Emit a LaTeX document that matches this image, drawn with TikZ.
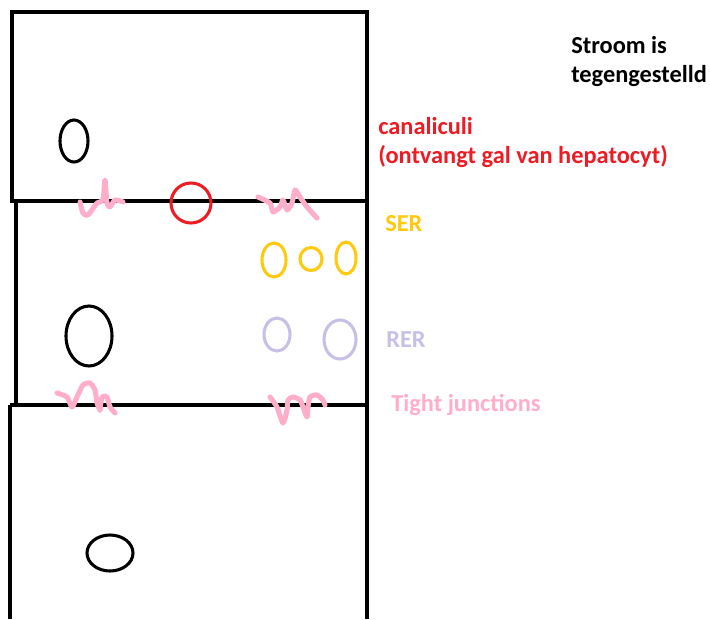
\documentclass[tikz,border=0pt]{standalone}
\usepackage{fontspec}
\setmainfont{Carlito}

% paint palette
\definecolor{cellred}{RGB}{237,28,36}
\definecolor{sergold}{RGB}{255,201,14}
\definecolor{rerlila}{RGB}{200,191,231}
\definecolor{tjpink}{RGB}{255,174,201}

\begin{document}
\begin{tikzpicture}[x=0.75pt, y=-0.75pt,
  wall/.style={line width=3pt},
  organel/.style={line width=2.3pt},
  squiggle/.style={tjpink, line width=3.8pt, line cap=round, line join=round},
  lbl/.style={font=\fontsize{18.3pt}{21.75pt}\selectfont\bfseries, inner sep=0pt, anchor=base west, align=left}]
  \useasboundingbox (0,0) rectangle (710,619);

  % three stacked cells
  \draw[wall] (12,12) rectangle (367,201);
  \draw[wall] (16,201) -- (16,405);
  \draw[wall] (10,405) -- (367,405);
  \draw[wall] (10,405) -- (10,619);
  \draw[wall] (367,201) -- (367,619);

  % nuclei
  \draw[organel] (74,141) ellipse (14 and 21);
  \draw[organel] (89,336) ellipse (23 and 30);
  \draw[organel] (110,553) ellipse (23 and 18);

  % canaliculus between the cells
  \draw[organel, cellred] (191,203) circle (20);

  % SER
  \draw[organel, sergold] (274,260) ellipse (12 and 17);
  \draw[organel, sergold] (311,259) ellipse (11 and 11.5);
  \draw[organel, sergold] (346,258) ellipse (10 and 16);

  % RER
  \draw[organel, rerlila] (277,334.5) ellipse (13 and 16.5);
  \draw[organel, rerlila] (340,339.5) ellipse (16 and 19.5);

  % tight junctions
  \draw[squiggle] plot[smooth, tension=0.4] coordinates {(80,202) (83,213) (88,215) (97,203) (103,200) (105,180) (107,203) (110,207) (115,200) (123,202)};
  \draw[squiggle] plot[smooth, tension=0.4] coordinates {(258,197) (270,203) (273,212) (280,207) (283,200) (287,210) (292,203) (295,190) (300,197) (307,207) (317,218)};
  \draw[squiggle] plot[smooth, tension=0.4] coordinates {(57,393) (67,397) (72,407) (77,397) (83,385) (90,383) (95,390) (97,403) (100,410)};
  \draw[squiggle] plot[smooth, tension=0.4] coordinates {(100,410) (102,397) (107,397) (110,407) (115,413)};
  \draw[squiggle] plot[smooth, tension=0.4] coordinates {(270,397) (277,407) (283,423) (287,410) (288,400) (293,397) (300,400) (303,407) (307,417) (308,407) (310,397) (317,395) (323,400) (325,405)};

  % labels (base anchor sits on the last line)
  \node[lbl] (stroom) at (571,82) {Stroom is\\tegengestelld};
  \node[lbl, text=cellred] (canal) at (378,163) {canaliculi\\(ontvangt gal van hepatocyt)};
  \node[lbl, text=sergold] (ser) at (385,231) {SER};
  \node[lbl, text=rerlila] (rer) at (386,347) {RER};
  \node[lbl, text=tjpink] (tj) at (391,411) {Tight junctions};
\end{tikzpicture}
\end{document}
